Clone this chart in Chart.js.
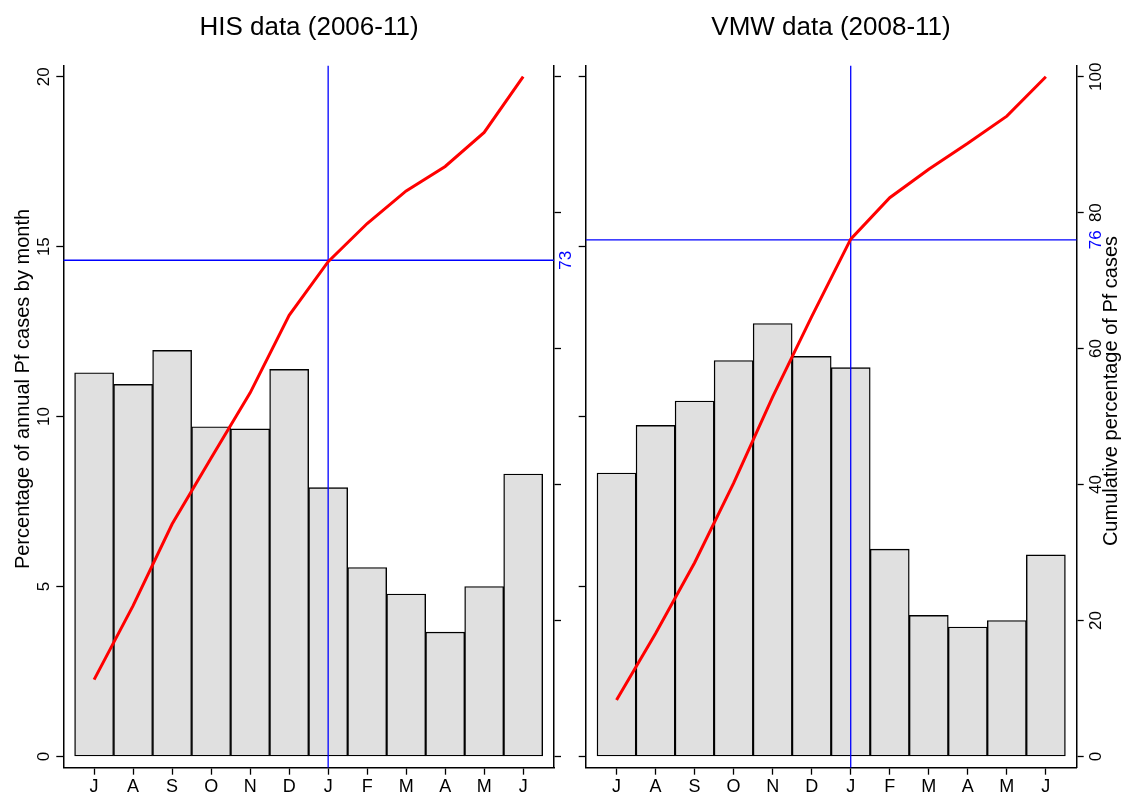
<!DOCTYPE html>
<html>
<head>
<meta charset="utf-8">
<script src="https://cdn.jsdelivr.net/npm/chart.js@4.4.1/dist/chart.umd.min.js"></script>
<style>
  html, body { margin: 0; padding: 0; background: #fff; }
  #wrap { position: relative; width: 1126px; height: 796px; overflow: hidden; }
  canvas { position: absolute; top: 0; }
</style>
</head>
<body>
<div id="wrap">
  <canvas id="his" width="618" height="796" style="left:0px"></canvas>
  <canvas id="vmw" width="590" height="796" style="left:536px"></canvas>
</div>
<script>
// month labels, Jul -> Jun
const months = ['J', 'A', 'S', 'O', 'N', 'D', 'J', 'F', 'M', 'A', 'M', 'J'];

// HIS data (2006-11): % of annual Pf cases per month and cumulative %
const hisMonthly = [11.29, 10.95, 11.95, 9.70, 9.64, 11.39, 7.91, 5.56, 4.78, 3.66, 5.00, 8.31];
const hisCumulative = [11.3, 22.2, 34.2, 43.9, 53.5, 64.9, 72.8, 78.4, 83.2, 86.8, 91.8, 100];

// VMW data (2008-11)
const vmwMonthly = [8.34, 9.74, 10.46, 11.65, 12.74, 11.77, 11.44, 6.10, 4.15, 3.81, 4.00, 5.93];
const vmwCumulative = [8.3, 18.1, 28.5, 40.2, 52.9, 64.7, 76.1, 82.2, 86.4, 90.2, 94.2, 100];

// tick values of both y axes
const pctTicks = [0, 5, 10, 15, 20];
const cumTicks = [0, 20, 40, 60, 80, 100];

// reference lines: month index (January) and cumulative % reached by then
const markMonth = 6;
const hisMarkPct = 73;
const vmwMarkPct = 76;

const FONT = '"Liberation Sans", Arial, Helvetica, sans-serif';
Chart.defaults.font.family = FONT;
Chart.defaults.color = '#000';

// rotated axis titles (the right one reads bottom-to-top, like the left one)
const axisTitles = {
  id: 'axisTitles',
  afterDraw(chart, args, opts) {
    const ctx = chart.ctx;
    ctx.save();
    ctx.fillStyle = '#000';
    ctx.font = '20px ' + FONT;
    ctx.textAlign = 'center';
    ctx.textBaseline = 'middle';
    for (const t of opts.items || []) {
      ctx.save();
      ctx.translate(t.x, t.y);
      ctx.rotate(-Math.PI / 2);
      ctx.fillText(t.text, 0, 0);
      ctx.restore();
    }
    ctx.restore();
  }
};

const X_MIN = -0.79, X_MAX = 11.79;
const Y_MIN = -0.33, Y_MAX = 20.33;
const Y2_MIN = -1.65, Y2_MAX = 101.65;

function axisLook(tickColor) {
  return {
    grid: { display: true, drawOnChartArea: false, drawTicks: true, tickLength: 7, tickWidth: 1.3, tickColor: tickColor || '#000', offset: false },
    border: { display: true, color: '#000', width: 1.5 }
  };
}

function makePanel(id, p) {
  return new Chart(document.getElementById(id), {
    type: 'bar',
    data: {
      datasets: [
        {
          type: 'line', yAxisID: 'y2', order: 1,
          data: p.cumulative.map((v, i) => ({ x: i, y: v })),
          borderColor: '#ff0000', borderWidth: 3, pointRadius: 0, tension: 0
        },
        {
          type: 'line', yAxisID: 'y2', order: 2,
          data: [{ x: markMonth, y: Y2_MIN }, { x: markMonth, y: Y2_MAX }],
          borderColor: '#0000ff', borderWidth: 1.3, pointRadius: 0
        },
        {
          type: 'line', yAxisID: 'y2', order: 2,
          data: [{ x: X_MIN, y: p.markPct }, { x: X_MAX, y: p.markPct }],
          borderColor: '#0000ff', borderWidth: 1.3, pointRadius: 0
        },
        {
          type: 'bar', yAxisID: 'y', order: 3,
          data: p.monthly.map((v, i) => ({ x: i, y: v })),
          backgroundColor: '#e0e0e0', borderColor: '#000', borderWidth: 1.4,
          borderSkipped: false, categoryPercentage: 1, barPercentage: 1
        }
      ]
    },
    options: {
      responsive: false,
      animation: false,
      events: [],
      layout: { padding: 0 },
      plugins: {
        legend: { display: false },
        tooltip: { enabled: false },
        title: {
          display: true, text: p.title, color: '#000',
          font: { size: 26, weight: 'normal' },
          padding: { top: 12.5, bottom: 21.8 }
        },
        axisTitles: { items: p.axisTitles }
      },
      scales: {
        x: {
          type: 'linear', min: X_MIN, max: X_MAX, offset: false,
          afterBuildTicks: s => { s.ticks = months.map((m, i) => ({ value: i })); },
          ticks: { callback: v => months[v], font: { size: 18 }, color: '#000', padding: 2, autoSkip: false, maxRotation: 0 },
          ...axisLook(),
          afterFit: s => { s.height = 28.3; }
        },
        y: {
          position: 'left', min: Y_MIN, max: Y_MAX,
          afterBuildTicks: s => { s.ticks = pctTicks.map(v => ({ value: v })); },
          ticks: {
            callback: v => p.leftLabels ? String(v) : '',
            minRotation: 90, maxRotation: 90, crossAlign: 'center',
            padding: 2.9, font: { size: 17 }, color: '#000', autoSkip: false
          },
          ...axisLook(),
          afterFit: s => { s.width = p.leftWidth; }
        },
        y2: {
          position: 'right', min: Y2_MIN, max: Y2_MAX,
          afterBuildTicks: s => {
            s.ticks = cumTicks.concat([p.markPct]).sort((a, b) => a - b).map(v => ({ value: v }));
          },
          ticks: {
            callback: v => (v === p.markPct || p.rightLabels) ? String(v) : '',
            minRotation: 90, maxRotation: 90, crossAlign: 'center',
            padding: p.rightPad, font: { size: 17 }, autoSkip: false,
            color: c => (c.tick && c.tick.value === p.markPct) ? '#0000ff' : '#000'
          },
          ...axisLook(c => (c.tick && c.tick.value === p.markPct) ? 'rgba(0,0,0,0)' : '#000'),
          afterFit: s => { s.width = p.rightWidth; }
        }
      }
    },
    plugins: [axisTitles]
  });
}

makePanel('his', {
  title: 'HIS data (2006-11)',
  monthly: hisMonthly, cumulative: hisCumulative, markPct: hisMarkPct,
  leftLabels: true, rightLabels: false,
  leftWidth: 63.3, rightWidth: 64, rightPad: -4.4,
  axisTitles: [{ text: 'Percentage of annual Pf cases by month', x: 23, y: 389 }]
});

makePanel('vmw', {
  title: 'VMW data (2008-11)',
  monthly: vmwMonthly, cumulative: vmwCumulative, markPct: vmwMarkPct,
  leftLabels: false, rightLabels: true,
  leftWidth: 49.7, rightWidth: 49.3, rightPad: -1.2,
  axisTitles: [{ text: 'Cumulative percentage of Pf cases', x: 575, y: 391 }]
});
</script>
</body>
</html>
